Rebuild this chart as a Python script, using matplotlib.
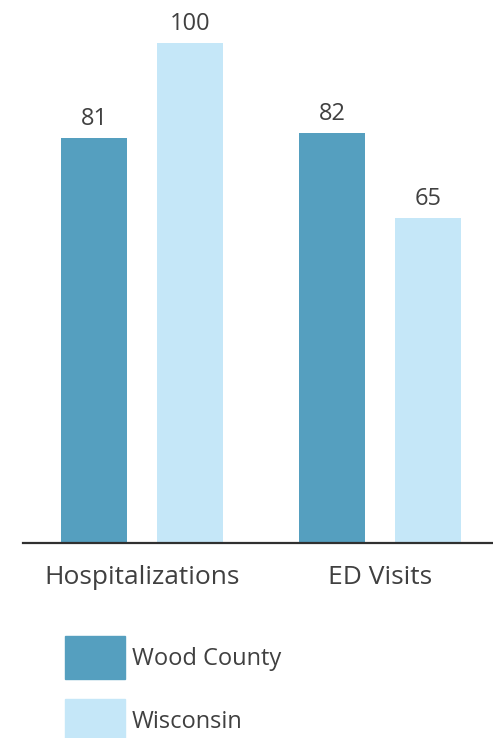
import matplotlib.pyplot as plt
from matplotlib.patches import Patch

plt.rcParams['font.family'] = ['Open Sans', 'DejaVu Sans']

categories = ['Hospitalizations', 'ED Visits']
series = ['Wood County', 'Wisconsin']
wood = [81, 82]
wisconsin = [100, 65]

dark = '#559fbf'
light = '#c5e7f8'
txt = '#404040'

fig = plt.figure(figsize=(4.93, 7.38), dpi=100)
ax = fig.add_axes([23 / 493, 195 / 738, 470 / 493, 500 / 738])

w = 66 / 238
off = 48 / 238
x = list(range(len(categories)))
b1 = ax.bar([i - off for i in x], wood, width=w, color=dark)
b2 = ax.bar([i + off for i in x], wisconsin, width=w, color=light)

for bars, vals in ((b1, wood), (b2, wisconsin)):
    for b, v in zip(bars, vals):
        ax.annotate(str(v), (b.get_x() + b.get_width() / 2, v),
                    xytext=(0, 5), textcoords='offset points',
                    ha='center', va='bottom', fontsize=17, color=txt,
                    annotation_clip=False)

ax.set_xlim(-0.502, 1.473)
ax.set_ylim(0, 100)
ax.set_xticks(x)
ax.set_xticklabels(categories, fontsize=19, color=txt)
ax.tick_params(axis='x', length=0, pad=15.5)
ax.set_yticks([])
for s in ('top', 'right', 'left'):
    ax.spines[s].set_visible(False)
ax.spines['bottom'].set_linewidth(1.6)
ax.spines['bottom'].set_color('#303030')

handles = [Patch(color=dark), Patch(color=light)]
fig.legend(handles, series, loc='upper left',
           bbox_to_anchor=(65 / 493, 1 - 636 / 738),
           frameon=False, fontsize=17, labelcolor=txt,
           handlelength=2.54, handleheight=2.43, handletextpad=0.3,
           labelspacing=0.85, borderpad=0, borderaxespad=0)

fig.savefig('out.png', dpi=100)
